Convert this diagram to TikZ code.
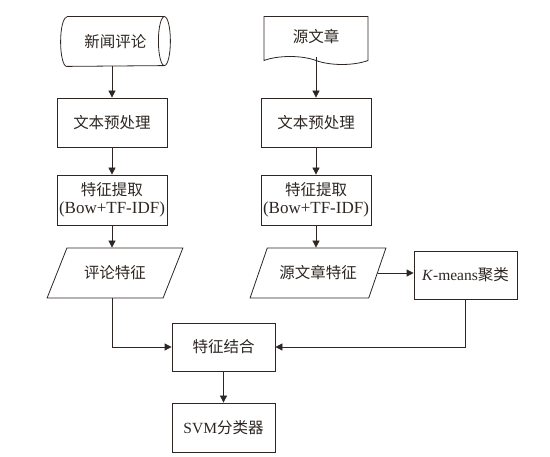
\documentclass[tikz,border=0pt]{standalone}
\usepackage{fontspec}
\setmainfont{Liberation Serif}
\newfontfamily\cjk{Noto Sans CJK SC}
\usepackage{xcolor}
\usetikzlibrary{shapes.geometric}
\usetikzlibrary{shapes.symbols}
\usetikzlibrary{arrows.meta}

\definecolor{ink}{RGB}{45,38,34}

\begin{document}
\begin{tikzpicture}[
  x=1pt, y=-1pt,
  font=\fontsize{15.5}{18}\selectfont,
  line width=0.8pt,
  box/.style={draw=ink, text=ink, align=center, minimum width=110pt, minimum height=49pt, inner sep=2pt},
  smallbox/.style={box, minimum width=103pt, minimum height=48pt},
  drum/.style={text=ink, minimum width=109pt, minimum height=49pt},
  doc/.style={draw=ink, text=ink, tape, tape bend top=none, tape bend bottom=out and in, tape bend height=8pt, minimum width=104pt, minimum height=48pt},
  data/.style={draw=ink, text=ink, trapezium, trapezium left angle=56, trapezium right angle=124, trapezium stretches=true, minimum width=136pt, minimum height=50pt},
  arrow/.style={draw=ink, -{Triangle[length=7pt, width=7pt]}}
]
\useasboundingbox (0,0) rectangle (550,457);

% inputs
\node[drum] (news) at (115.5,41.5) {\cjk 新闻评论};
\draw[ink] ([xshift=6pt]news.north west) -- ([xshift=-6pt]news.north east)
  arc[start angle=90, end angle=-90, x radius=6pt, y radius=24.5pt]
  -- ([xshift=6pt]news.south west)
  arc[start angle=270, end angle=90, x radius=6pt, y radius=24.5pt];
\draw[ink] ([xshift=-6pt]news.north east)
  arc[start angle=90, end angle=270, x radius=6pt, y radius=24.5pt];
\node[doc] (src) at (316,36.5) {\cjk 源文章};

% left branch
\node[box] (prepL) at (112,122.5) {\cjk 文本预处理};
\node[box, minimum height=50pt] (featL) at (112,200) {{\cjk 特征提取}\\{\fontsize{17}{18}\selectfont(Bow+TF-IDF)}};
\node[data] (cmtfeat) at (115,273) {\cjk 评论特征};

% right branch
\node[box] (prepR) at (316,122.5) {\cjk 文本预处理};
\node[box, minimum height=50pt] (featR) at (316,200) {{\cjk 特征提取}\\{\fontsize{17}{18}\selectfont(Bow+TF-IDF)}};
\node[data] (srcfeat) at (318,273) {\cjk 源文章特征};
\node[smallbox] (kmeans) at (465.5,275) {\textit{K}-means{\cjk 聚类}};

% merge and classify
\node[smallbox] (combine) at (223.5,347) {\cjk 特征结合};
\node[smallbox, minimum height=49pt] (svm) at (223.5,427.5) {SVM{\cjk 分类器}};

\draw[arrow] (news.south -| prepL) -- (prepL);
\draw[arrow] (prepL) -- (featL);
\draw[arrow] (featL) -- (featL |- cmtfeat.north);
\draw[arrow] (src.south -| prepR) -- (prepR);
\draw[arrow] (prepR) -- (featR);
\draw[arrow] (featR) -- (featR |- srcfeat.north);
\draw[arrow] (srcfeat.east) -- (srcfeat.east -| kmeans.west);
\draw[arrow] (cmtfeat.south -| featL) |- (combine.west);
\draw[arrow] (kmeans.south) |- (combine.east);
\draw[arrow] (combine) -- (svm);

\end{tikzpicture}
\end{document}
